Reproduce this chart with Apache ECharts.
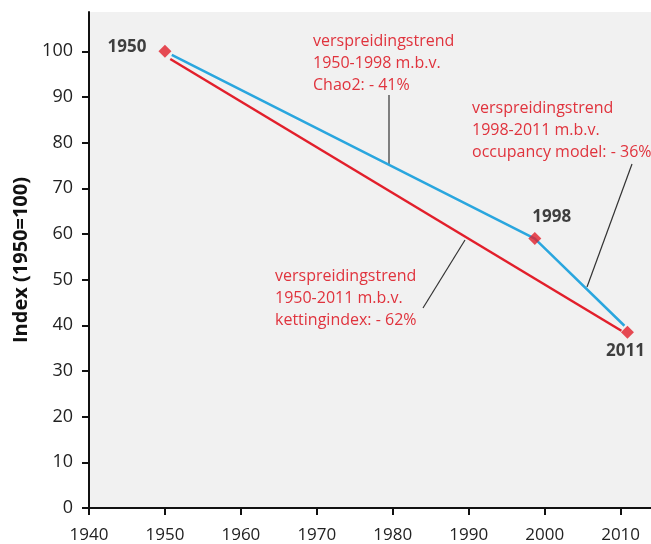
<!DOCTYPE html>
<html>
<head>
<meta charset="utf-8">
<script src="https://cdn.jsdelivr.net/npm/echarts@6/dist/echarts.min.js"></script>
<style>
  html, body { margin: 0; padding: 0; background: #fff; }
  #chart { width: 651px; height: 544px; }
</style>
</head>
<body>
<div id="chart"></div>
<script>
// punten (jaar, index)
const markerPoints = [[1950, 100], [1998.7, 59], [2010.9, 38.5]];
const markerNames = ['1950', '1998', '2011'];
// lijnen
const chaoLine = [[1950.9, 99.2], [1998.7, 59], [2010.5, 39.9]];
const kettingLine = [[1950.7, 98.3], [2010.1, 38.8]];
// as-labels
const yTicks = [0, 10, 20, 30, 40, 50, 60, 70, 80, 90, 100];
const xTicks = [1940, 1950, 1960, 1970, 1980, 1990, 2000, 2010];

const red = '#e21f2b';
const blue = '#2aa6de';
const txtRed = '#e0333d';
const font = '"Open Sans", "Noto Sans", sans-serif';

const chart = echarts.init(document.getElementById('chart'));

const noteStyle = (text, x, y) => ({
  type: 'text',
  left: x,
  top: y,
  style: { text, fill: txtRed, font: '16px ' + font, lineHeight: 22 },
});

chart.setOption({
  animation: false,
  grid: {
    left: 89, right: 0, top: 12, bottom: 35,
    show: true, backgroundColor: '#f1f1f1', borderWidth: 0,
  },
  xAxis: {
    type: 'value', min: 1940, max: 2014,
    axisLine: { onZero: false, lineStyle: { color: '#111', width: 2 } },
    axisTick: { show: true, length: 7, lineStyle: { color: '#111', width: 2 }, customValues: xTicks },
    axisLabel: {
      color: '#222', fontSize: 17, fontFamily: font, margin: 19, customValues: xTicks,
      formatter: (v) => String(v),
    },
    splitLine: { show: false },
  },
  yAxis: {
    type: 'value', min: 0, max: 108.6,
    name: 'Index (1950=100)', nameLocation: 'middle', nameGap: 56,
    nameTextStyle: { color: '#111', fontSize: 20, fontWeight: 'bold', fontFamily: font },
    axisLine: { show: true, lineStyle: { color: '#111', width: 2 } },
    axisTick: { show: true, length: 7, lineStyle: { color: '#111', width: 2 }, customValues: yTicks },
    axisLabel: { color: '#222', fontSize: 18, fontFamily: font, margin: 16, customValues: yTicks },
    splitLine: { show: false },
  },
  series: [
    {
      type: 'line', data: kettingLine, symbol: 'none',
      lineStyle: { color: red, width: 2.5 }, z: 2,
    },
    {
      type: 'line', data: chaoLine, symbol: 'none',
      lineStyle: { color: blue, width: 2.5 }, z: 2,
    },
    {
      type: 'scatter', symbol: 'diamond', symbolSize: 13, z: 5,
      itemStyle: { color: red },
      data: markerPoints.map((p, i) => ({
        value: p,
        label: [
          { position: 'left', distance: 12, offset: [0, -4] },
          { position: 'top', distance: 6, offset: [17, 0] },
          { position: 'bottom', distance: 4, offset: [-2, 0] },
        ][i],
      })),
      label: {
        show: true, color: '#111', fontSize: 17, fontWeight: 'bold', fontFamily: font,
        formatter: (p) => markerNames[p.dataIndex],
      },
    },
  ],
  graphic: [
    noteStyle('verspreidingstrend\n1950-1998 m.b.v.\nChao2: - 41%', 313, 30),
    noteStyle('verspreidingstrend\n1998-2011 m.b.v.\noccupancy model: - 36%', 472, 97),
    noteStyle('verspreidingstrend\n1950-2011 m.b.v.\nkettingindex: - 62%', 275, 265),
    { type: 'line', shape: { x1: 389, y1: 95, x2: 389, y2: 164 }, style: { stroke: '#333', lineWidth: 1.2 } },
    { type: 'line', shape: { x1: 632, y1: 164, x2: 587, y2: 287 }, style: { stroke: '#333', lineWidth: 1.2 } },
    { type: 'line', shape: { x1: 423, y1: 308, x2: 465, y2: 240 }, style: { stroke: '#333', lineWidth: 1.2 } },
  ],
});
</script>
</body>
</html>
